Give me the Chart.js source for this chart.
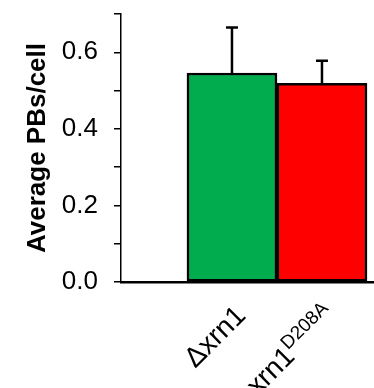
<!DOCTYPE html>
<html>
<head>
<meta charset="utf-8">
<script src="https://cdn.jsdelivr.net/npm/chart.js@4"></script>
<style>
  html, body { margin: 0; padding: 0; background: #fff; }
  #wrap { width: 374px; height: 388px; }
</style>
</head>
<body>
<div id="wrap"><canvas id="pbChart" width="374" height="388"></canvas></div>
<script>
// strain names (main text + superscript part)
const strains = ['\u0394xrn1', 'xrn1'];
const strainSup = ['', 'D208A'];
const avgPBs = [0.546, 0.519];
const errPBs = [0.119, 0.059];
const barColors = ['#00AC4E', '#FF0000'];
const yTicks = [0.0, 0.2, 0.4, 0.6];

const FONT = "'Liberation Sans', Arial, sans-serif";

// draws the upward error bars on top of each bar
const errorBars = {
    id: 'errorBars',
    afterDatasetsDraw(chart) {
        const ctx = chart.ctx;
        const meta = chart.getDatasetMeta(0);
        const yScale = chart.scales.y;
        ctx.save();
        ctx.strokeStyle = '#000';
        ctx.lineWidth = 2.5;
        meta.data.forEach((bar, i) => {
            const yTop = yScale.getPixelForValue(avgPBs[i] + errPBs[i]);
            ctx.beginPath();
            ctx.moveTo(bar.x, bar.y);
            ctx.lineTo(bar.x, yTop);
            ctx.moveTo(bar.x - 6, yTop);
            ctx.lineTo(bar.x + 6, yTop);
            ctx.stroke();
        });
        ctx.restore();
    }
};

// rotated strain labels with superscript
const strainLabels = {
    id: 'strainLabels',
    afterDraw(chart) {
        const ctx = chart.ctx;
        const meta = chart.getDatasetMeta(0);
        const base = chart.chartArea.bottom;
        ctx.save();
        ctx.fillStyle = '#000';
        ctx.textBaseline = 'alphabetic';
        meta.data.forEach((bar, i) => {
            ctx.save();
            ctx.translate(bar.x + 15, base + 35);
            ctx.rotate(-Math.PI / 4);
            ctx.font = '28px ' + FONT;
            const mainW = ctx.measureText(strains[i]).width;
            ctx.font = '19px ' + FONT;
            const supW = strainSup[i] ? ctx.measureText(strainSup[i]).width : 0;
            const total = mainW + supW;
            ctx.font = '28px ' + FONT;
            ctx.textAlign = 'left';
            ctx.fillText(strains[i], -total, 0);
            if (strainSup[i]) {
                ctx.font = '19px ' + FONT;
                ctx.fillText(strainSup[i], -total + mainW, -11);
            }
            ctx.restore();
        });
        ctx.restore();
    }
};

const ctx = document.getElementById('pbChart').getContext('2d');
const pbChart = new Chart(ctx, {
    type: 'bar',
    data: {
        datasets: [{
            data: avgPBs.map((v, i) => ({ x: i + 1, y: v })),
            backgroundColor: barColors,
            borderColor: '#000',
            borderWidth: 2.5,
            borderSkipped: false,
            barPercentage: 1,
            categoryPercentage: 1
        }]
    },
    options: {
        responsive: false,
        animation: false,
        events: [],
        layout: { padding: { top: 14, right: 0, left: 0, bottom: 0 } },
        plugins: {
            legend: { display: false },
            tooltip: { enabled: false }
        },
        scales: {
            x: {
                type: 'linear',
                offset: false,
                min: -0.233,
                max: 2.578,
                ticks: { display: false },
                grid: { display: false, drawTicks: false },
                border: { display: true, color: '#000', width: 2.5 },
                // one tick per strain so the bars fill their slot
                afterBuildTicks: (s) => { s.ticks = strains.map((_, i) => ({ value: i + 1 })); },
                afterFit: (s) => { s.height = 106; }
            },
            y: {
                min: 0,
                max: 0.7,
                ticks: {
                    stepSize: 0.1,
                    color: '#000',
                    padding: 16,
                    font: { family: FONT, size: 26 },
                    callback: (v) => {
                        const hit = yTicks.find(t => Math.abs(t - v) < 1e-6);
                        return hit === undefined ? '' : hit.toFixed(1);
                    }
                },
                grid: { drawOnChartArea: false, drawTicks: true, tickLength: 7, color: '#000', lineWidth: 1.5 },
                border: { display: true, color: '#000', width: 1.5 },
                title: {
                    display: true,
                    text: 'Average PBs/cell',
                    color: '#000',
                    font: { family: FONT, size: 26, weight: 'bold' },
                    padding: { top: 22, bottom: 0 }
                },
                afterFit: (s) => { s.width = 121; s.paddingTop = 0; s.paddingBottom = 0; }
            }
        }
    },
    plugins: [errorBars, strainLabels]
});
</script>
</body>
</html>
